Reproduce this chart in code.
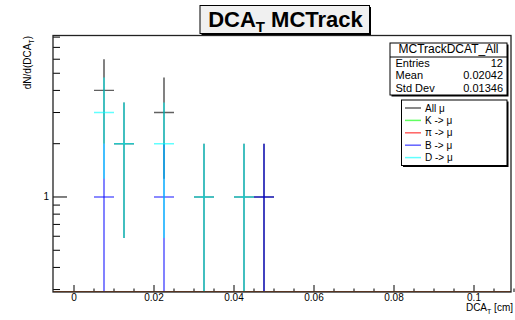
<!DOCTYPE html>
<html>
<head>
<meta charset="utf-8">
<script src="https://cdn.jsdelivr.net/npm/d3@7"></script>
<style>
  body { margin: 0; background: #fff; }
  svg text { font-family: "Liberation Sans", Arial, Helvetica, sans-serif; }
</style>
</head>
<body>
<svg id="chart" width="515" height="320"></svg>
<script>
// histogram content, bin width 0.005 cm (only non-empty bins listed)
const binWidth = 0.005;
const binCenters = [0.0075, 0.0125, 0.0225, 0.0325, 0.0425, 0.0475];
const allMu = [4, 2, 3, 1, 1, 1];
const kMu   = [0, 0, 0, 0, 0, 0];
const piMu  = [0, 0, 0, 0, 0, 0];
const bMu   = [1, 0, 1, 0, 0, 1];
const dMu   = [3, 2, 2, 1, 1, 0];

const seriesNames  = ["All \u03bc", "K -> \u03bc", "\u03c0 -> \u03bc", "B -> \u03bc", "D -> \u03bc"];
const seriesColors = ["#000000", "#00ff00", "#ff0000", "#0000ff", "#00ffff"];
const seriesValues = [allMu, kMu, piMu, bMu, dMu];

const xTicks = [0, 0.02, 0.04, 0.06, 0.08, 0.1];
const xTickLabels = ["0", "0.02", "0.04", "0.06", "0.08", "0.1"];
const yMajorTicks = [1];
const yMinorTicks = [0.3, 0.4, 0.5, 0.6, 0.7, 0.8, 0.9, 2, 3, 4, 5, 6, 7, 8];

const d3v = window.d3;
const svg = d3v.select("#chart");

const frame = { left: 53, right: 511, top: 35.5, bottom: 292 };

const x = d3v.scaleLinear().domain([-0.00525, 0.10925]).range([frame.left, frame.right]);
const y = d3v.scaleLog().domain([0.2906, 8.17]).range([frame.bottom, frame.top]);

// clip
svg.append("defs").append("clipPath").attr("id", "clipFrame")
  .append("rect")
  .attr("x", frame.left).attr("y", frame.top)
  .attr("width", frame.right - frame.left).attr("height", frame.bottom - frame.top);

// x ticks
const xMinor = d3v.range(0, 0.1101, 0.005);
svg.append("g").selectAll("line").data(xMinor).enter().append("line")
  .attr("x1", d => x(d)).attr("x2", d => x(d))
  .attr("y1", frame.bottom).attr("y2", (d, i) => frame.bottom - (i % 4 === 0 ? 7 : 3.5))
  .attr("stroke", "#000").attr("stroke-width", 1);

svg.append("g").selectAll("text").data(xTicks).enter().append("text")
  .attr("x", d => x(d)).attr("y", 300.5)
  .attr("text-anchor", "middle").attr("font-size", 10)
  .attr("fill", "#000")
  .text((d, i) => xTickLabels[i]);

// y ticks
svg.append("g").selectAll("line").data(yMinorTicks).enter().append("line")
  .attr("x1", frame.left).attr("x2", frame.left + 7)
  .attr("y1", d => y(d)).attr("y2", d => y(d))
  .attr("stroke", "#000").attr("stroke-width", 1);
svg.append("g").selectAll("line").data(yMajorTicks).enter().append("line")
  .attr("x1", frame.left).attr("x2", frame.left + 14)
  .attr("y1", d => y(d)).attr("y2", d => y(d))
  .attr("stroke", "#000").attr("stroke-width", 1);
svg.append("g").selectAll("text").data(yMajorTicks).enter().append("text")
  .attr("x", 49).attr("y", d => y(d)).attr("dy", "0.35em")
  .attr("text-anchor", "end").attr("font-size", 10)
  .text(d => d);

// histograms with error bars
const plot = svg.append("g").attr("clip-path", "url(#clipFrame)");

seriesValues.forEach((vals, si) => {
  const color = seriesColors[si];
  const g = plot.append("g").attr("stroke", color).attr("stroke-opacity", 0.62);
  if (d3v.sum(vals) === 0) {
    g.append("line")
      .attr("x1", frame.left).attr("x2", frame.right)
      .attr("y1", frame.bottom).attr("y2", frame.bottom)
      .attr("stroke-width", 2);
    return;
  }
  binCenters.forEach((c, i) => {
    const v = vals[i];
    if (v <= 0) return;
    const e = Math.sqrt(v);
    const lo = v - e > 0 ? y(v - e) : frame.bottom + 5;
    g.append("line")
      .attr("x1", x(c)).attr("x2", x(c))
      .attr("y1", y(v + e)).attr("y2", lo)
      .attr("stroke-width", 1.6);
    g.append("line")
      .attr("x1", x(c - binWidth / 2)).attr("x2", x(c + binWidth / 2))
      .attr("y1", y(v)).attr("y2", y(v))
      .attr("stroke-width", 1.4);
  });
});

// frame
svg.append("rect")
  .attr("x", frame.left).attr("y", frame.top)
  .attr("width", frame.right - frame.left).attr("height", frame.bottom - frame.top)
  .attr("fill", "none").attr("stroke", "#222").attr("stroke-width", 1.3);
// coloured baseline of empty histograms drawn on top of axis
plot.append("line")
  .attr("x1", frame.left).attr("x2", frame.right)
  .attr("y1", frame.bottom).attr("y2", frame.bottom)
  .attr("stroke", "#b8561e").attr("stroke-width", 1.6);

// axis titles
const xt = svg.append("text")
  .attr("x", 513).attr("y", 311)
  .attr("text-anchor", "end").attr("font-size", 10);
xt.append("tspan").text("DCA");
xt.append("tspan").attr("dy", 3).attr("font-size", 7).text("T");
xt.append("tspan").attr("dy", -3).text(" [cm]");

const yt = svg.append("text")
  .attr("transform", "translate(31,36) rotate(-90)")
  .attr("text-anchor", "end").attr("font-size", 10);
yt.append("tspan").text("dN/d(DCA");
yt.append("tspan").attr("dy", 3).attr("font-size", 7).text("T");
yt.append("tspan").attr("dy", -3).text(")");

// title box
function shadowBox(x0, y0, w, h, fill) {
  svg.append("rect").attr("x", x0 + 1.5).attr("y", y0 + 1.5).attr("width", w).attr("height", h)
    .attr("fill", "#000");
  svg.append("rect").attr("x", x0).attr("y", y0).attr("width", w).attr("height", h)
    .attr("fill", fill).attr("stroke", "#000").attr("stroke-width", 1);
}
shadowBox(200, 5.5, 169.5, 28, "#f0f0f0");
const title = svg.append("text")
  .attr("x", 285.5).attr("y", 27)
  .attr("text-anchor", "middle").attr("font-size", 22).attr("font-weight", "bold");
title.append("tspan").text("DCA");
title.append("tspan").attr("dy", 5).attr("font-size", 15).text("T");
title.append("tspan").attr("dy", -5).text(" MCTrack");

// stats box
const entries = d3v.sum(allMu);
const mean = d3v.sum(binCenters, (c, i) => c * allMu[i]) / entries;
const std = Math.sqrt(d3v.sum(binCenters, (c, i) => allMu[i] * (c - mean) ** 2) / entries);
const statRows = [["Entries", String(entries)], ["Mean", mean.toPrecision(4)], ["Std Dev", std.toPrecision(4)]];

shadowBox(390, 43, 117, 52, "#fff");
svg.append("line").attr("x1", 390).attr("x2", 507).attr("y1", 57).attr("y2", 57)
  .attr("stroke", "#000").attr("stroke-width", 1);
svg.append("text").attr("x", 448.5).attr("y", 53).attr("text-anchor", "middle")
  .attr("font-size", 12).text("MCTrackDCAT_All");
statRows.forEach((r, i) => {
  const by = 67 + i * 12.3;
  svg.append("text").attr("x", 395.5).attr("y", by).attr("font-size", 11).text(r[0]);
  svg.append("text").attr("x", 503).attr("y", by).attr("text-anchor", "end")
    .attr("font-size", 11).text(r[1]);
});

// legend
shadowBox(401.5, 100, 105.5, 65.5, "#fff");
seriesNames.forEach((name, i) => {
  const cy = 108 + i * 12.4;
  svg.append("line").attr("x1", 405).attr("x2", 421).attr("y1", cy).attr("y2", cy)
    .attr("stroke", seriesColors[i]).attr("stroke-opacity", 0.62).attr("stroke-width", 1.5);
  svg.append("text").attr("x", 425).attr("y", cy).attr("dy", "0.35em")
    .attr("font-size", 10).text(name);
});
</script>
</body>
</html>
